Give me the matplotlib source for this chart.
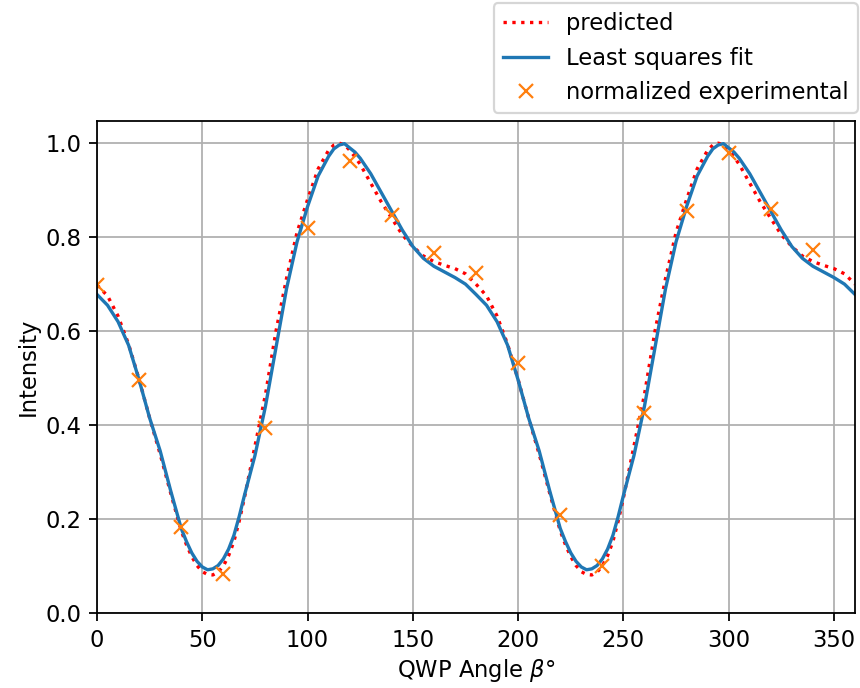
import numpy as np
import matplotlib
matplotlib.use("Agg")
import matplotlib.pyplot as plt

# values (denser sampling near the extrema)
beta = [
    0, 5, 10, 15, 20, 25, 30, 35, 40, 42.5, 45, 47.5, 50, 52.5, 55, 57.5,
    60, 62.5, 65, 67.5, 70, 75, 80, 85, 90, 95, 100, 105, 110, 112.5, 115,
    117.5, 120, 122.5, 125, 130, 135, 140, 145, 150, 155, 160, 165, 170, 175,
    180, 185, 190, 195, 200, 205, 210, 215, 220, 222.5, 225, 227.5, 230,
    232.5, 235, 237.5, 240, 242.5, 245, 247.5, 250, 255, 260, 265, 270, 275,
    280, 285, 290, 292.5, 295, 297.5, 300, 302.5, 305, 310, 315, 320, 325,
    330, 335, 340, 345, 350, 355, 360,
]

predicted = [
    0.698, 0.675, 0.632, 0.572, 0.497, 0.415, 0.338, 0.255, 0.175, 0.145,
    0.120, 0.101, 0.088, 0.082, 0.081, 0.087, 0.100, 0.122, 0.152, 0.195,
    0.245, 0.355, 0.465, 0.600, 0.712, 0.810, 0.880, 0.945, 0.985, 0.996,
    1.000, 0.997, 0.985, 0.971, 0.955, 0.915, 0.875, 0.840, 0.805, 0.780,
    0.760, 0.748, 0.740, 0.733, 0.722,
    0.700, 0.675, 0.632, 0.572, 0.497, 0.415, 0.338, 0.255, 0.175, 0.145,
    0.120, 0.101, 0.088, 0.082, 0.081, 0.087, 0.100, 0.122, 0.152, 0.195,
    0.245, 0.355, 0.465, 0.600, 0.712, 0.810, 0.880, 0.945, 0.985, 0.996,
    1.000, 0.997, 0.985, 0.971, 0.955, 0.915, 0.875, 0.840, 0.805, 0.780,
    0.760, 0.748, 0.740, 0.733, 0.722, 0.700,
]

fit = [
    0.678, 0.655, 0.620, 0.570, 0.496, 0.415, 0.345, 0.260, 0.180, 0.152,
    0.128, 0.110, 0.098, 0.092, 0.094, 0.101, 0.115, 0.136, 0.165, 0.205,
    0.250, 0.335, 0.440, 0.565, 0.690, 0.790, 0.865, 0.930, 0.972, 0.988,
    0.996, 0.999, 0.990, 0.981, 0.968, 0.935, 0.895, 0.855, 0.815, 0.780,
    0.755, 0.738, 0.726, 0.714, 0.700,
    0.678, 0.655, 0.620, 0.570, 0.496, 0.415, 0.345, 0.260, 0.180, 0.152,
    0.128, 0.110, 0.098, 0.092, 0.094, 0.101, 0.115, 0.136, 0.165, 0.205,
    0.250, 0.335, 0.440, 0.565, 0.690, 0.790, 0.865, 0.930, 0.972, 0.988,
    0.996, 0.999, 0.990, 0.981, 0.968, 0.935, 0.895, 0.855, 0.815, 0.780,
    0.755, 0.738, 0.726, 0.714, 0.700, 0.678,
]

beta_exp = [0, 20, 40, 60, 80, 100, 120, 140, 160, 180,
            200, 220, 240, 260, 280, 300, 320, 340]
intensity_exp = [0.698, 0.496, 0.182, 0.084, 0.394, 0.820, 0.962, 0.848, 0.767,
                 0.723, 0.533, 0.209, 0.101, 0.426, 0.855, 0.980, 0.860, 0.772]

s = 1.6
plt.rcParams.update({
    "font.size": 10 * 1.63,
    "lines.linewidth": 1.5 * s,
    "lines.markersize": 6 * s,
    "lines.markeredgewidth": 1.0 * s,
    "axes.linewidth": 0.8 * s,
    "grid.linewidth": 0.8 * s,
    "xtick.major.width": 0.8 * s,
    "ytick.major.width": 0.8 * s,
    "xtick.major.size": 3.5 * s,
    "ytick.major.size": 3.5 * s,
    "xtick.major.pad": 3.5 * s,
    "ytick.major.pad": 3.5 * s,
    "patch.linewidth": 1.0 * s,
})

fig = plt.figure(figsize=(8.6, 6.88), dpi=100)
ax = fig.add_axes([0.1128, 0.109, 0.8814, 0.715])

ax.plot(beta, predicted, "r:", label="predicted")
ax.plot(beta, fit, color="C0", label="Least squares fit")
ax.plot(beta_exp, intensity_exp, "x", color="C1", label="normalized experimental")

ax.set_xlim(0, 360)
ax.set_ylim(0, 1.047)
ax.set_xlabel(r"QWP Angle $\beta$°")
ax.set_ylabel("Intensity")
ax.grid(True)
ax.legend(loc="lower right", bbox_to_anchor=(0.9977, 0.8358),
          bbox_transform=fig.transFigure, borderaxespad=0)

fig.savefig("out.png", dpi=100)
